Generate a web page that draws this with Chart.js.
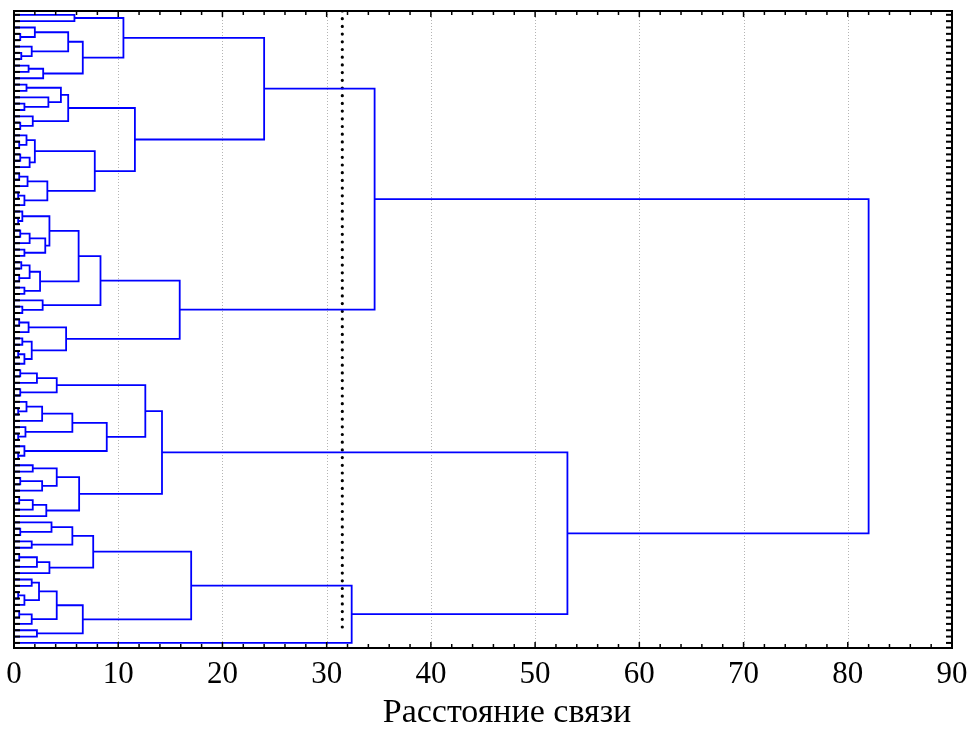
<!DOCTYPE html>
<html><head><meta charset="utf-8">
<script src="https://cdn.jsdelivr.net/npm/chart.js@4.4.0/dist/chart.umd.min.js"></script>
<style>html,body{margin:0;padding:0;background:#fff}</style>
</head><body>
<div style="width:972px;height:743px;position:relative"><canvas id="c"></canvas></div>
<script>
// ---- Axis definition ----
const xMin = 0, xMax = 90, xMajorStep = 10, xMinorStep = 2;
const axisTitle = 'Расстояние связи';
const leafCount = 100;            // objects (leaves), listed top to bottom 0..99
const cutDistance = 31.5;         // dotted cut line position (linkage distance)
const cutSpan = [-0.6, 96.8];     // leaf-index span covered by the dotted line

// ---- Dendrogram: nodes are [linkage distance, left child, right child]; numbers are leaves ----
const clusterU1a = [10.5,
  [5.8, 0, 1],
  [6.6,
    [5.2, [2.0, 2, [0.6, 3, 4]], [1.7, 5, [0.7, 6, 7]]],
    [2.8, [1.4, 8, 9], 10]]];
const clusterU1b = [11.6,
  [5.2,
    [4.5, [1.2, 11, 12], [3.3, 13, [1.0, 14, 15]]],
    [1.8, 16, [0.6, 17, 18]]],
  [7.75,
    [2.0, [1.2, 19, [0.5, 20, 21]], [1.5, [0.6, 22, 23], 24]],
    [3.2, [1.3, [0.5, 25, 26], 27], [1.0, [0.4, 28, 29], 30]]]];
const clusterU2 = [15.9,
  [8.3,
    [6.2,
      [3.4, [0.8, 31, [0.4, 32, 33]], [3.0, [1.5, [0.6, 34, 35], 36], [1.0, 37, 38]]],
      [2.5, [1.5, [0.7, 39, 40], [0.5, 41, 42]], [1.0, 43, 44]]],
    [2.75, 45, [0.8, 46, 47]]],
  [5.0,
    [1.4, [0.5, 48, 49], 50],
    [1.7, [0.8, 51, 52], [1.0, [0.4, 53, 54], 55]]]];
const clusterL1 = [14.2,
  [12.6,
    [4.1, [2.2, [0.6, 56, 57], 58], [0.6, 59, 60]],
    [8.9,
      [5.6, [2.7, [1.2, 61, [0.4, 62, 63]], 64], [1.1, 65, [0.4, 66, 67]]],
      [1.0, 68, [0.4, 69, 70]]]],
  [6.25,
    [4.1, [1.8, 71, 72], [2.7, [0.6, 73, 74], 75]],
    [3.1, [1.8, [0.5, 76, 77], 78], 79]]];
const clusterL2 = [32.4,
  [17.0,
    [7.6,
      [5.6, [3.6, 80, [0.6, 81, 82]], [1.7, 83, 84]],
      [3.4, [2.2, [0.5, 85, 86], 87], 88]],
    [6.6,
      [4.1, [2.4, [1.7, 89, 90], [1.0, [0.4, 91, 92], 93]], [1.7, [0.5, 94, 95], 96]],
      [2.2, 97, 98]]],
  99];
const rootDistance = 82.0, upperDistance = 34.6, upperLeftDistance = 24.0, lowerDistance = 53.1;

const tree = [rootDistance,
  [upperDistance, [upperLeftDistance, clusterU1a, clusterU1b], clusterU2],
  [lowerDistance, clusterL1, clusterL2]];

// ---- Build link polylines from the tree ----
const links = [];
function walk(node) {
  if (typeof node === 'number') return { x: 0, y: node };
  const [h, a, b] = node;
  const A = walk(a), B = walk(b);
  links.push([{ x: A.x, y: A.y }, { x: h, y: A.y }, { x: h, y: B.y }, { x: B.x, y: B.y }]);
  return { x: h, y: (A.y + B.y) / 2 };
}
walk(tree);

const datasets = links.map(pts => ({
  data: pts, showLine: true, borderColor: '#0000ff', borderWidth: 1.8,
  pointRadius: 0, tension: 0, fill: false
}));
datasets.push({
  data: [{ x: cutDistance, y: cutSpan[0] }, { x: cutDistance, y: cutSpan[1] }],
  showLine: true, borderColor: '#000', borderWidth: 3.2, borderDash: [0, 7.7],
  borderCapStyle: 'round', pointRadius: 0, fill: false
});

const FONT = 'Liberation Serif';

const gridPlugin = {
  id: 'grid',
  beforeDatasetsDraw(chart) {
    const { ctx, chartArea: a, scales: { x } } = chart;
    ctx.save();
    ctx.strokeStyle = '#b4b4b4'; ctx.lineWidth = 1; ctx.setLineDash([1, 2]);
    for (let v = xMin + xMajorStep; v < xMax; v += xMajorStep) {
      const px = Math.round(x.getPixelForValue(v)) + 0.5;
      ctx.beginPath(); ctx.moveTo(px, a.top); ctx.lineTo(px, a.bottom); ctx.stroke();
    }
    ctx.restore();
  },
  afterDatasetsDraw(chart) {
    const { ctx, chartArea: a, scales: { x, y } } = chart;
    ctx.save();
    ctx.strokeStyle = '#000';
    ctx.lineWidth = 1.5;
    for (let v = xMin; v <= xMax + 1e-9; v += xMinorStep) {
      const px = x.getPixelForValue(v);
      const len = (v % xMajorStep === 0) ? 6 : 4;
      ctx.beginPath(); ctx.moveTo(px, a.bottom); ctx.lineTo(px, a.bottom - len); ctx.stroke();
      ctx.beginPath(); ctx.moveTo(px, a.top); ctx.lineTo(px, a.top + len); ctx.stroke();
    }
    ctx.lineWidth = 2;
    for (let i = 0; i < leafCount; i++) {
      const py = y.getPixelForValue(i);
      ctx.beginPath(); ctx.moveTo(a.left, py); ctx.lineTo(a.left + 6, py); ctx.stroke();
      ctx.beginPath(); ctx.moveTo(a.right, py); ctx.lineTo(a.right - 6, py); ctx.stroke();
    }
    ctx.lineWidth = 2;
    ctx.strokeRect(a.left, a.top, a.right - a.left, a.bottom - a.top);
    // axis title (centred on the whole graph window, slightly right of the plot centre)
    ctx.fillStyle = '#000';
    ctx.font = '34px "' + FONT + '"';
    ctx.textAlign = 'center';
    ctx.textBaseline = 'alphabetic';
    ctx.fillText(axisTitle, chart.width / 2 + 21, a.bottom + 74);
    ctx.restore();
  }
};

new Chart(document.getElementById('c'), {
  type: 'scatter',
  data: { datasets },
  options: {
    responsive: true, maintainAspectRatio: false, animation: false, devicePixelRatio: 1,
    layout: { padding: { left: 14, right: 20, top: 11, bottom: 5 } },
    plugins: { legend: { display: false }, tooltip: { enabled: false } },
    scales: {
      x: {
        type: 'linear', min: xMin, max: xMax,
        ticks: { stepSize: xMajorStep, color: '#000', font: { family: FONT, size: 31, lineHeight: 1.0 }, padding: 11, maxRotation: 0 },
        grid: { display: false, drawTicks: false }, border: { display: false },
        title: { display: false, text: axisTitle },
        afterFit(scale) { scale.height = 90; scale.paddingLeft = 0; scale.paddingRight = 0; }
      },
      y: {
        type: 'linear', reverse: true, min: -0.6, max: 99.8, display: false
      }
    }
  },
  plugins: [gridPlugin]
});
</script>
</body></html>
